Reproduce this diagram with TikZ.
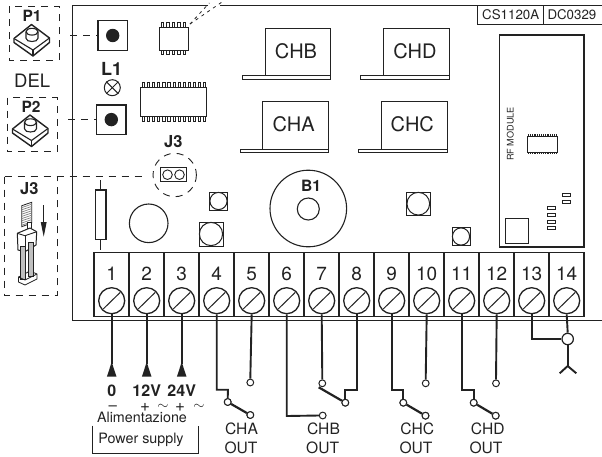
\documentclass[tikz,border=0pt]{standalone}
\usepackage{fontspec}
\setmainfont{TeX Gyre Heros}
\newcommand{\fsz}[1]{\fontsize{#1}{#1}\selectfont}
\definecolor{ink}{HTML}{222222}
\tikzset{
  x=1pt,y=-1pt,
  every node/.style={text=ink},
  txt/.style={anchor=base,inner sep=0pt,outer sep=0pt},
  chlabel/.style={txt,font=\fsz{20}},
  outlabel/.style={txt,font=\fsz{15.6}},
  numlabel/.style={txt,font=\fsz{19}},
  boldlabel/.style={txt,font=\fsz{15.5}\bfseries},
  powlabel/.style={txt,font=\fsz{14.3}},
  board/.style={draw=ink,line width=1.5pt},
  thin part/.style={draw=ink,line width=0.9pt,fill=white},
  dashline/.style={draw=ink,line width=0.9pt,dash pattern=on 7pt off 6pt},
  wire/.style={draw=ink,line width=1.9pt},
  contact/.style={circle,draw=ink,line width=1pt,fill=white,inner sep=0pt,minimum size=6.8pt},
  screw/.style={circle,draw=ink,line width=1.3pt,fill=white,inner sep=0pt,minimum size=26pt},
  term/.style={draw=ink,line width=1.3pt},
  relay/.style={draw=ink,line width=1pt,fill=white},
  padbox/.style={draw=ink,line width=1.1pt,fill=white},
  pinmark/.style={draw=ink,line width=0.6pt,fill=white},
  button/.style={draw=ink,line width=1.4pt,fill=white,line join=round},
}
\begin{document}
\begin{tikzpicture}
\useasboundingbox (0,0) rectangle (602,456);

% board outline
\draw[board] (208,5.3) -- (72.7,5.3) -- (72.7,320.7) -- (602,320.7);
\draw[board] (220,5.3) -- (602,5.3);

% code box
\draw[draw=ink,line width=0.8pt] (477.5,5.3) -- (477.5,24) -- (602,24);
\draw[draw=ink,line width=0.8pt] (543.7,5.3) -- (543.7,24);
\node[txt,font=\fsz{13.3}] (code1) at (510.7,19.5) {CS1120A};
\node[txt,font=\fsz{13.3}] (code2) at (571.9,19.5) {DC0329};

% dashed boxes
\draw[dashline] (9,6) rectangle (59,60);
\draw[dashline] (7.3,97.7) rectangle (57.3,151.7);
\draw[dashline] (4.7,176.7) -- (4.7,295.7) -- (57.3,295.7) -- (57.3,176.7);
\draw[dashline] (4.7,176.7) -- (146.7,176.7);
\draw[dashline] (70,35) -- (98,35);
\draw[dashline] (68.3,119.3) -- (96.7,119.3);
\draw[dashline,dash pattern=on 3pt off 4pt,line width=0.8pt] (190,24) -- (209.3,3);
\draw[dashline,dash pattern=on 3pt off 4pt,line width=0.8pt] (190,24) -- (222,2);

% push buttons
\foreach \n/\dx/\dy/\lx/\ly in {P1/0/0/32/21.3,P2/-1.5/90.5/31/112.3}{
  \begin{scope}[shift={(\dx,\dy)}]
    \draw[button] (14,38.5) -- (31.5,24.5) -- (49.5,38) -- (49.5,42.5) -- (33,56) -- (14,42.5) -- cycle;
    \draw[button,line width=1.1pt] (14,38.5) -- (33,50) -- (49.5,38);
    \draw[button,line width=1.1pt] (33,50) -- (33,56);
    \draw[button,line width=1.1pt] (26,31.7) -- (26,38.3) .. controls (26,42.6) and (38,42.6) .. (38,38.3) -- (38,31.7);
    \draw[button,line width=1.1pt] (32,31.7) ellipse[x radius=6,y radius=3.4];
  \end{scope}
  \node[boldlabel] (lab\n) at (\lx,\ly) {\n};
}
\node[txt,font=\fsz{18.5}] (del) at (32.2,87.3) {DEL};

% tact switches on board
\node[padbox,minimum size=29.3pt,inner sep=0pt,line width=1.2pt] (sw1) at (112.7,35.5) {};
\fill[ink] (sw1.center) circle[radius=6.7];
\node[padbox,minimum size=29.3pt,inner sep=0pt,line width=1.2pt] (sw2) at (111.3,119.6) {};
\fill[ink] (sw2.center) circle[radius=6.7];

% L1
\node[txt,font=\fsz{18}\bfseries] (l1) at (111.7,75) {L1};
\node[circle,draw=ink,line width=1pt,inner sep=0pt,minimum size=16pt] (lamp) at (112.3,87.7) {};
\draw[draw=ink,line width=1pt] (lamp.north west) -- (lamp.south east);
\draw[draw=ink,line width=1pt] (lamp.north east) -- (lamp.south west);

% chips
\foreach \px in {162.3,167.7,173.3,179,184.3}{
  \draw[pinmark] (\px-1.3,22.5) rectangle (\px+1.3,28);
  \draw[pinmark] (\px-1.3,50) rectangle (\px+1.3,54);
}
\draw[thin part] (159.3,27.7) rectangle (188.3,50);
\foreach \k in {0,...,12}{
  \draw[pinmark] (143.3+\k*5.1-1.1,82) rectangle (143.3+\k*5.1+1.1,87.5);
  \draw[pinmark] (143.3+\k*5.1-1.1,116.7) rectangle (143.3+\k*5.1+1.1,121.5);
}
\draw[thin part] (140,87.3) rectangle (206,116.7);

% J3 on board
\node[txt,font=\fsz{16.5}\bfseries] (j3a) at (173.3,147.7) {J3};
\draw[dashline,dash pattern=on 7pt off 6pt] (174.7,175) circle[radius=21.7];
\node[draw=ink,line width=1.1pt,fill=white,minimum width=26pt,minimum height=14pt,inner sep=0pt] (jump) at (173.7,174.7) {};
\draw[draw=ink,line width=0.9pt] (167.5,174.7) circle[radius=4.8];
\draw[draw=ink,line width=0.9pt] (179.5,174.7) circle[radius=4.8];

% J3 detail
\node[boldlabel,font=\fsz{16.5}\bfseries] (j3b) at (29.3,194) {J3};
\draw[draw=ink,line width=0.8pt,fill=white] (21.7,205.7) -- (31.7,202.3) -- (31.7,223) -- (21.7,226.7) -- cycle;
\foreach \k in {0,...,8}{
  \draw[draw=gray,line width=0.7pt] (21.7,207.6+\k*2.2) -- (31.7,204.2+\k*2.2);
}
\draw[draw=ink,line width=0.8pt,fill=white] (27,222) rectangle (31.7,231);
\draw[button,line width=1pt] (17.3,233.3) -- (30,228) -- (36.7,231.7) -- (36,245) -- (25,251.7) -- (18,250) -- cycle;
\draw[button,line width=0.9pt] (17.3,233.3) -- (25,235.7) -- (36.7,231.7);
\draw[draw=ink,line width=0.9pt] (25,235.7) -- (25,251.7);
\draw[draw=ink,line width=0.8pt,fill=white] (18.5,277) -- (30,271) -- (37,274) -- (37,279) -- (25,285) -- (18.5,282) -- cycle;
\draw[draw=ink,line width=0.8pt,fill=gray!50] (20.7,246) rectangle (25.7,279);
\draw[draw=ink,line width=0.8pt,fill=gray!50] (28.3,242) rectangle (33.3,276);
\draw[draw=ink,line width=0.8pt] (18.5,277) -- (25,280) -- (37,274);
\draw[draw=ink,line width=0.8pt] (43.7,205) -- (43.7,224);
\fill[ink] (43.7,236.7) -- (40.7,222) -- (46.7,222) -- cycle;

% resistor
\node[draw=ink,line width=1.2pt,fill=white,minimum width=10.7pt,minimum height=49.3pt,inner sep=0pt] (res) at (100.7,214.6) {};
\coordinate (resT) at (100.7,180);
\coordinate (resB) at (100.7,250);
\draw[draw=ink,line width=0.9pt] (resT) -- (res.north);
\draw[draw=ink,line width=0.9pt] (res.south) -- (resB);
\node[circle,draw=ink,line width=1.1pt,inner sep=0pt,minimum size=38.6pt] (cap) at (148.7,223.3) {};

% small square + circle parts
\foreach \nm/\cx/\cy/\sz in {pa/218.5/201/18,pb/211/234/24,pc/418.3/203.7/23.5,pd/461/236.5/18}{
  \node[draw=ink,line width=0.8pt,fill=white,minimum size=\sz pt,inner sep=0pt] (\nm) at (\cx,\cy) {};
  \draw[draw=ink,line width=1pt,fill=white] (\nm.center) circle[radius=\sz/2-0.4];
}

% relays
\foreach \nm/\xa/\xb/\xs/\ya/\tx in {CHB/265/330.7/242.3/28/296,CHD/383.3/449/360.7/28/415,CHA/262.7/328.3/240/101.3/293.7,CHC/381.3/447/358.3/101.3/412.3}{
  \draw[relay] (\xa,\ya) rectangle (\xb,\ya+47.7);
  \draw[relay] (\xs,\ya+47.7) rectangle (\xb,\ya+51);
  \node[chlabel] (rel\nm) at (\tx,\ya+30.3) {\nm};
}

% B1
\node[circle,draw=ink,line width=1.1pt,inner sep=0pt,minimum size=76.6pt] (b1o) at (308.3,208.5) {};
\node[circle,draw=ink,line width=1.1pt,inner sep=0pt,minimum size=22pt] (b1i) at (308.3,209) {};
\node[boldlabel,font=\fsz{15.6}\bfseries] (b1) at (311,191.7) {B1};

% RF module
\draw[draw=ink,line width=1.3pt] (499.5,35) rectangle (584,247);
\node[txt,font=\fsz{9.1},rotate=90] (rf) at (513.7,134) {RF MODULE};
\foreach \k in {0,...,15}{
  \draw[draw=ink,line width=0.5pt] (528.3+\k*1.85,134) -- (528.3+\k*1.85,137.5);
  \draw[draw=ink,line width=0.5pt] (528.3+\k*1.85,151.5) -- (528.3+\k*1.85,154);
}
\draw[draw=ink,line width=0.9pt,fill=white] (527.7,136.5) rectangle (557.3,152);
\foreach \rx/\ry in {562.7/195,562.7/201.7,547.5/208.3,547.5/215,547.5/221.7,547.5/228.3}{
  \draw[draw=ink,line width=0.7pt] (\rx,\ry-1.5) rectangle (\rx+7.5,\ry+1.5);
}
\draw[draw=ink,line width=0.9pt] (505.7,218) rectangle (528.3,243);

% terminal block
\draw[term] (94,252.7) rectangle (584,316.7);
\foreach \k in {1,...,13}{
  \draw[term] (94+\k*35,252.7) -- (94+\k*35,316.7);
}
\foreach \i in {1,...,14}{
  \pgfmathsetmacro{\sx}{111.7+35*(\i-1)}
  \node[numlabel] (num\i) at (\sx,280.5) {\i};
  \node[screw] (s\i) at (\sx,300.7) {};
  \draw[draw=ink,line width=1pt] (\sx-8.5,309) -- (\sx+8.5,292.4);
}

% power wires
\foreach \i/\nm/\lbl in {1/0/0,2/12/12V,3/24/24V}{
  \coordinate (a\i) at (s\i.south |- 0,364);
  \draw[wire] (s\i.south) -- (a\i);
  \fill[ink] (a\i) ++(0,-2) -- ++(-4.8,14.7) -- ++(9.6,0) -- cycle;
  \node[boldlabel,font=\fsz{16}\bfseries] (v\i) at (s\i.south |- 0,396) {\lbl};
}
\node[txt,font=\fsz{15}] (m1) at (112.7,410) {–};
\node[txt,font=\fsz{17}] (m2) at (145,411) {+};
\node[txt,font=\fsz{15}] (m3) at (163,409.5) {$\sim$};
\node[txt,font=\fsz{17}] (m4) at (180,411) {+};
\node[txt,font=\fsz{15}] (m5) at (199,409.5) {$\sim$};
\node[powlabel] (alim) at (142,422.7) {Alimentazione};
\node[powlabel] (psu) at (141,443) {Power supply};
\draw[draw=ink,line width=1pt] (92.3,425.7) -- (92.3,453.3) -- (198,453.3) -- (198,425.7);

% contacts
\node[contact] (c4a) at (227.7,402) {};
\node[contact] (c4b) at (250.3,415) {};
\node[contact] (c5)  at (250.3,382.5) {};
\node[contact] (c6)  at (322.7,415.5) {};
\node[contact] (c7)  at (322.3,383.3) {};
\coordinate (c7s) at (318.7,387.3);
\node[contact] (c8)  at (345.3,402.7) {};
\node[contact] (c9a) at (403.3,402.7) {};
\node[contact] (c9b) at (425.5,415.7) {};
\node[contact] (c10) at (425.7,383.3) {};
\node[contact] (c11a) at (473.7,402.7) {};
\node[contact] (c11b) at (495.7,415.7) {};
\node[contact] (c12) at (496,383.3) {};

% output wires
\draw[wire] (s4.south) -- (216.7,389.7) -- (228,389.7) -- (c4a.north);
\draw[wire] (s5.south) -- (c5.north);
\draw[wire] (s6.south) -- (286.7,416) -- (c6.west);
\draw[wire] (s7.south) -- (c7.north);
\draw[wire] (s8.south) -- (356.7,390.3) -- (345.3,390.3) -- (c8.north);
\draw[wire] (s9.south) -- (391.7,390.3) -- (403.3,390.3) -- (c9a.north);
\draw[wire] (s10.south) -- (c10.north);
\draw[wire] (s11.south) -- (461.7,390.3) -- (473.7,390.3) -- (c11a.north);
\draw[wire] (s12.south) -- (c12.north);
\draw[wire,line width=2.2pt] (c4a) -- (c4b);
\draw[wire,line width=2.2pt] (c7s) -- (c8);
\draw[wire,line width=2.2pt] (c9a) -- (c9b);
\draw[wire,line width=2.2pt] (c11a) -- (c11b);
\foreach \c in {c4a,c4b,c8,c9a,c9b,c11a,c11b}{
  \node[contact] at (\c) {};
}

% antenna
\node[contact,minimum size=11.4pt,line width=1.2pt] (ant) at (567.7,339) {};
\coordinate (antb) at (567.7,366);
\coordinate (antl) at (559.7,373.3);
\coordinate (antr) at (576.3,373.3);
\draw[wire] (s14.south) -- (ant.north);
\draw[wire] (s13.south) -- (531.7,339) -- (ant.west);
\draw[wire] (ant.south) -- (antb);
\draw[wire] (antl) -- (antb) -- (antr);

% output labels
\foreach \nm/\ca/\cb in {CHA/241.5/241,CHB/323.5/322.7,CHC/417.3/416,CHD/487.7/486}{
  \node[outlabel] (o\nm) at (\ca,434.5) {\nm};
  \node[outlabel] (out\nm) at (\cb,453.8) {OUT};
}
\end{tikzpicture}
\end{document}
